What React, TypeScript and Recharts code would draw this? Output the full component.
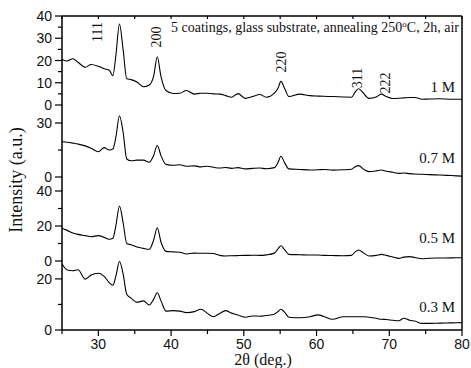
import { LineChart, Line, XAxis, YAxis } from "recharts";

// 2θ positions (deg.)
const twoTheta = [
  25, 25.7, 26.5, 27.2, 28.2, 29.0, 30.0, 30.8, 31.5, 32.0, 32.4,
  32.9, 33.4, 33.9, 34.5, 35.3, 36.2, 37.0, 37.6, 38.1, 38.6, 39.3,
  40.3, 41.2, 42.1, 43.2, 44.1, 45.0, 45.8, 46.7, 47.5, 48.3, 49.2,
  50.2, 51.2, 52.2, 53.1, 54.2, 54.7, 55.1, 55.6, 56.2, 57.7, 59.1,
  60.2, 61.0, 62.2, 63.7, 64.8, 65.3, 65.8, 66.4, 67.2, 68.2, 68.9,
  69.6, 70.5, 71.3, 72.0, 72.8, 73.5, 74.5, 75.5, 77.0, 78.5, 80,
];

const int1M = [
  20.5, 19.8, 20.8, 19.2, 17.0, 18.2, 17.4, 16.3, 15.6, 13.2, 22,
  36.4, 25, 11.8, 11.4, 10.3, 8.2, 9.0, 13, 21.7, 13, 6.5,
  5.2, 5.3, 6.5, 4.9, 5.3, 5.3, 5.0, 4.9, 4.2, 3.5, 5.1,
  3.0, 3.8, 4.7, 3.5, 5.3, 7.5, 10.6, 7.5, 3.8, 4.9, 4.2,
  4.0, 3.9, 3.8, 3.6, 3.5, 5.8, 7.3, 5.5, 3.0, 3.6, 4.9,
  3.8, 2.9, 3.0, 3.2, 3.4, 3.4, 2.6, 2.7, 2.8, 2.6, 2.6,
];

const int07M = [
  19.6, 19.3, 18.8, 18.3, 17.3, 16.0, 14.0, 16.3, 15.0, 15.5, 22,
  34, 25, 10, 9.0, 9.4, 9.4, 8.2, 12, 17.5, 12, 7.0,
  6.5, 6.8, 6.0, 6.2, 5.6, 6.0, 5.4, 5.0, 5.3, 4.8, 5.2,
  4.5, 4.8, 5.0, 4.6, 5.2, 8, 11.5, 8, 4.5, 4.2, 3.9,
  4.0, 4.2, 3.8, 4.0, 4.3, 5.7, 6.3, 4.5, 3.0, 3.4, 3.9,
  3.2, 2.6, 2.0, 2.2, 1.9, 1.7, 1.5, 1.3, 1.1, 0.8, 0.5,
];

const int05M = [
  18.7, 17.5, 16.0, 15.2, 14.5, 13.9, 14.5, 13.5, 12.4, 13, 20,
  31.4, 22, 10, 9.3, 8.0, 7.2, 6.7, 12, 19, 11, 5.5,
  5.2, 5.0, 4.0, 4.5, 4.4, 4.4, 4.3, 3.2, 2.9, 3.0, 3.1,
  3.2, 3.3, 3.2, 3.5, 4.5, 7, 8.7, 6.5, 3.8, 3.6, 3.4,
  3.4, 3.2, 3.1, 3.0, 3.2, 5.2, 6.3, 4.8, 2.9, 3.2, 3.8,
  3.2, 2.3, 1.5, 2.2, 2.5, 2.0, 1.3, 1.6, 1.7, 1.8, 1.9,
];

const int03M = [
  25.9, 23.5, 23.2, 23.6, 19.9, 21.5, 22.2, 21.0, 18.5, 17.5, 21,
  26.8, 22, 14, 12.5, 10.8, 11.4, 9.8, 12, 14.6, 11.5, 7.4,
  7.6, 7.4, 6.8, 7.2, 8.1, 6.5, 5.2, 6.5, 7.6, 6.6, 5.9,
  5.0, 5.5, 5.4, 5.7, 6.2, 7.2, 8.1, 7.0, 5.0, 4.8, 5.2,
  5.9, 5.3, 4.2, 5.2, 5.2, 5.2, 5.2, 5.2, 5.0, 4.6, 4.2,
  4.1, 3.8, 3.6, 4.6, 3.8, 3.5, 2.6, 2.6, 2.7, 2.8, 2.9,
];

const xTicks = [25, 30, 35, 40, 45, 50, 55, 60, 65, 70, 75, 80];
const xMajors = [30, 40, 50, 60, 70, 80];

const sampleNames = ["1 M", "0.7 M", "0.5 M", "0.3 M"];
const peakNames = ["111", "200", "220", "311", "222"];

const W = 471;
const LEFT = 62;
const RIGHT = 9;
const SANS = "'Liberation Sans', Arial, sans-serif";
const SERIF = "'Liberation Serif', 'Times New Roman', serif";

const panels = [
  { values: int1M, domain: [0, 40], ticks: [0, 5, 10, 15, 20, 25, 30, 35, 40], majors: [0, 10, 20, 30, 40], top: 16, bottom: 105, labelY: 92 },
  { values: int07M, domain: [0, 40], ticks: [0, 15, 30], majors: [0, 30], top: 105, bottom: 177, labelY: 163 },
  { values: int05M, domain: [0, 48], ticks: [0, 10, 20, 30, 40], majors: [0, 20, 40], top: 177, bottom: 261, labelY: 243 },
  { values: int03M, domain: [0, 27], ticks: [0, 10, 20], majors: [0, 20], top: 261, bottom: 330, labelY: 312 },
];

const peakPos = [
  { x: 97, y: 32 },
  { x: 156.5, y: 37 },
  { x: 281, y: 62 },
  { x: 357.5, y: 78 },
  { x: 385, y: 83 },
];

function LeftTick({ x, y, payload, majors }: any) {
  const major = majors.includes(payload.value);
  return (
    <g>
      <line x1={x} x2={x - (major ? 7 : 4)} y1={y} y2={y} stroke="#000" strokeWidth={1.2} />
      {major && (
        <text x={x - 10} y={y} textAnchor="end" dominantBaseline="central" fontFamily={SANS} fontSize={14} fill="#111">
          {payload.value}
        </text>
      )}
    </g>
  );
}

function RightTick({ x, y, payload, majors }: any) {
  const major = majors.includes(payload.value);
  return <line x1={x} x2={x - (major ? 5 : 3)} y1={y} y2={y} stroke="#000" strokeWidth={1.2} />;
}

function TopTick({ x, y }: any) {
  return <line x1={x} x2={x} y1={y} y2={y + 3} stroke="#000" strokeWidth={1.2} />;
}

function BottomTick({ x, y, payload }: any) {
  const major = xMajors.includes(payload.value);
  return (
    <g>
      <line x1={x} x2={x} y1={y} y2={y + (major ? 6 : 4)} stroke="#000" strokeWidth={1.2} />
      {major && (
        <text x={x} y={y + 14} textAnchor="middle" dominantBaseline="central" fontFamily={SANS} fontSize={14} fill="#111">
          {payload.value}
        </text>
      )}
    </g>
  );
}

function Panel({ p, first, last }: any) {
  const rows = twoTheta.map((t, i) => ({ t, v: p.values[i] }));
  const topPad = first ? 5 : 0;
  const bottomPad = last ? 38 : 0;
  const h = p.bottom - p.top + topPad + bottomPad;
  return (
    <div style={{ position: "absolute", left: 0, top: p.top - topPad, width: W, height: h }}>
      <LineChart width={W} height={h} data={rows} margin={{ top: 0, right: 0, bottom: 0, left: 0 }}>
        <XAxis
          dataKey="t"
          type="number"
          domain={[25, 80]}
          ticks={xTicks}
          interval={0}
          hide={!first && !last}
          orientation={first ? "top" : "bottom"}
          height={first ? topPad : bottomPad}
          tickSize={0}
          tickMargin={0}
          tickLine={false}
          stroke="#000"
          strokeWidth={1.5}
          axisLine={first || last}
          tick={first ? <TopTick /> : <BottomTick />}
        />
        <YAxis
          yAxisId="l"
          type="number"
          domain={p.domain}
          ticks={p.ticks}
          interval={0}
          width={LEFT}
          tickSize={0}
          tickMargin={0}
          tickLine={false}
          stroke="#000"
          strokeWidth={1.5}
          tick={(t: any) => <LeftTick {...t} majors={p.majors} />}
        />
        <YAxis
          yAxisId="r"
          orientation="right"
          type="number"
          domain={p.domain}
          ticks={p.ticks}
          interval={0}
          width={RIGHT}
          tickSize={0}
          tickMargin={0}
          tickLine={false}
          stroke="#000"
          strokeWidth={1.5}
          tick={(t: any) => <RightTick {...t} majors={p.majors} />}
        />
        <Line
          yAxisId="l"
          dataKey="v"
          type="monotone"
          stroke="#000"
          strokeWidth={1.1}
          dot={false}
          isAnimationActive={false}
        />
      </LineChart>
    </div>
  );
}

export default function App() {
  return (
    <div style={{ position: "absolute", left: 0, top: 0, width: W, height: 368, overflow: "hidden", background: "#fff" }}>
      <style>{`.recharts-surface{overflow:visible}`}</style>
      {panels.map((p, i) => (
        <Panel key={sampleNames[i]} p={p} first={i === 0} last={i === panels.length - 1} />
      ))}
      <svg width={W} height={368} style={{ position: "absolute", left: 0, top: 0, pointerEvents: "none" }}>
        <text x={171} y={32} fontFamily={SERIF} fontSize={14} fill="#111">
          5 coatings, glass substrate, annealing 250
          <tspan dy={-5} fontSize={9}>o</tspan>
          <tspan dy={5}>C, 2h, air</tspan>
        </text>
        {peakNames.map((n, i) => (
          <text
            key={n}
            transform={`translate(${peakPos[i].x},${peakPos[i].y}) rotate(-90)`}
            textAnchor="middle"
            dominantBaseline="central"
            fontFamily={SERIF}
            fontSize={14}
            fill="#111"
          >
            {n}
          </text>
        ))}
        {sampleNames.map((n, i) => (
          <text key={n} x={455} y={panels[i].labelY} textAnchor="end" fontFamily={SERIF} fontSize={15} fill="#111">
            {n}
          </text>
        ))}
        <text
          transform="translate(16,180) rotate(-90)"
          textAnchor="middle"
          dominantBaseline="central"
          fontFamily={SERIF}
          fontSize={18}
          fill="#111"
        >
          Intensity (a.u.)
        </text>
        <text x={263} y={365} textAnchor="middle" fontFamily={SERIF} fontSize={16} fill="#111">
          2θ (deg.)
        </text>
      </svg>
    </div>
  );
}
